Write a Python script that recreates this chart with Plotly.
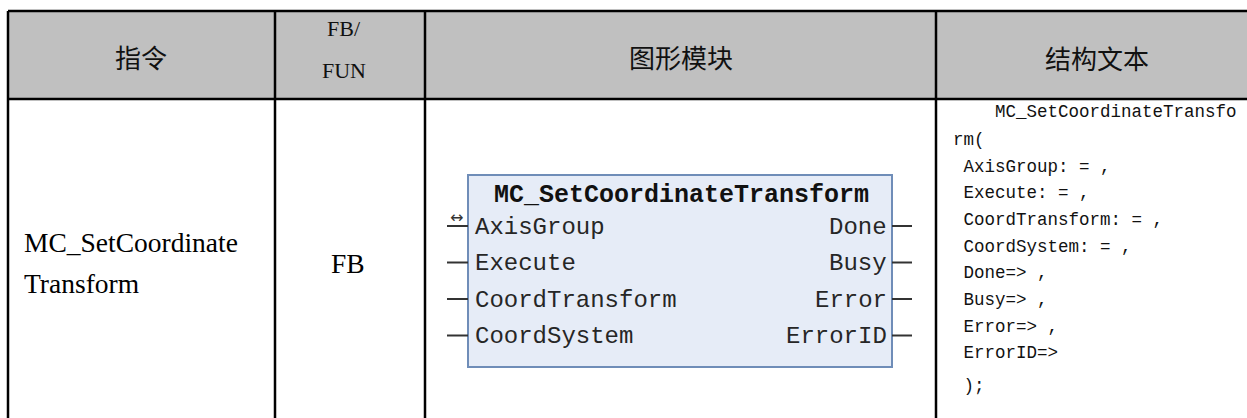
import plotly.graph_objects as go

# ---------------- data ----------------
header_labels = ["指令", "图形模块", "结构文本"]
type_header_lines = ["FB/", "FUN"]
instruction_lines = ["MC_SetCoordinate", "Transform"]
fb_type = "FB"
block_title = "MC_SetCoordinateTransform"
block_inputs = ["AxisGroup", "Execute", "CoordTransform", "CoordSystem"]
block_outputs = ["Done", "Busy", "Error", "ErrorID"]
code_lines = [
    "\u00a0\u00a0\u00a0\u00a0MC_SetCoordinateTransfo",
    "rm(",
    "\u00a0AxisGroup: = ,",
    "\u00a0Execute: = ,",
    "\u00a0CoordTransform: = ,",
    "\u00a0CoordSystem: = ,",
    "\u00a0Done=> ,",
    "\u00a0Busy=> ,",
    "\u00a0Error=> ,",
    "\u00a0ErrorID=>",
    "\u00a0);",
]

# ---------------- layout constants ----------------
W, H = 1247, 418
col_x = [8, 275, 425, 936, 1252]
top_y, head_y = 11, 99
box = dict(x0=468, x1=892, y0=175, y1=367)
pin_y0, pin_dy = 226, 36.5
code_y = [112, 140, 167, 193, 220, 247, 273, 300, 327, 353, 386]

fig = go.Figure()
shapes = []
ann = []

# header background
shapes.append(dict(type="rect", x0=col_x[0], x1=col_x[-1], y0=top_y, y1=head_y,
                   fillcolor="#C0C0C0", line=dict(width=0), layer="below"))
# borders
line_k = dict(color="black", width=2.5)
shapes.append(dict(type="line", x0=col_x[0], x1=col_x[-1], y0=top_y, y1=top_y, line=line_k))
shapes.append(dict(type="line", x0=col_x[0], x1=col_x[-1], y0=head_y, y1=head_y, line=line_k))
for cx in col_x[:-1]:
    shapes.append(dict(type="line", x0=cx, x1=cx, y0=top_y, y1=H + 5, line=line_k))

# header texts
cjk = dict(family="Noto Sans CJK SC", size=26, color="#111")
for (x, y), t in zip([(141, 56), (681, 56), (1097, 57)], header_labels):
    ann.append(dict(x=x, y=y, text=t, font=cjk))
for i, t in enumerate(type_header_lines):
    ann.append(dict(x=344, y=28 + i * 42, text=t,
                    font=dict(family="Liberation Serif", size=22, color="#111")))

# instruction column
serif = dict(family="Liberation Serif", size=27.5, color="#000")
for i, t in enumerate(instruction_lines):
    ann.append(dict(x=22, y=242 + i * 41.5, text=t, xanchor="left", font=serif))
ann.append(dict(x=348, y=263, text=fb_type, font=serif))

# function block
shapes.append(dict(type="rect", **box, fillcolor="#E6ECF7",
                   line=dict(color="#6F8DB8", width=2)))
ann.append(dict(x=681, y=195, text="<b>" + block_title + "</b>",
                font=dict(family="Liberation Mono", size=25, color="#111")))
mono = dict(family="Liberation Mono", size=24, color="#262626")
for i, name in enumerate(block_inputs):
    y = pin_y0 + i * pin_dy
    ann.append(dict(x=473, y=y + 1, text=name, xanchor="left", font=mono))
    shapes.append(dict(type="line", x0=447, x1=box["x0"], y0=y, y1=y,
                       line=dict(color="#333", width=2)))
for i, name in enumerate(block_outputs):
    y = pin_y0 + i * pin_dy
    ann.append(dict(x=889, y=y + 1, text=name, xanchor="right", font=mono))
    shapes.append(dict(type="line", x0=box["x1"], x1=912, y0=y, y1=y,
                       line=dict(color="#333", width=2)))
# in-out marker on first input
ann.append(dict(x=456, y=217, text="↔", font=dict(family="DejaVu Sans", size=16, color="#333")))

# structured text column
code_font = dict(family="Liberation Mono", size=17.5, color="#111")
for t, y in zip(code_lines, code_y):
    ann.append(dict(x=951, y=y, text=t, xanchor="left", font=code_font))

for a in ann:
    a.update(xref="x", yref="y", showarrow=False)
    a.setdefault("xanchor", "center")
    a.setdefault("yanchor", "middle")

fig.update_layout(
    width=W, height=H, margin=dict(l=0, r=0, t=0, b=0),
    paper_bgcolor="white", plot_bgcolor="white",
    xaxis=dict(range=[0, W], visible=False, fixedrange=True),
    yaxis=dict(range=[H, 0], visible=False, fixedrange=True),
    shapes=shapes, annotations=ann, showlegend=False,
)
fig.write_html("out.html", config={"displayModeBar": False},
               post_script="document.body.style.margin='0';document.body.style.overflow='hidden';")
